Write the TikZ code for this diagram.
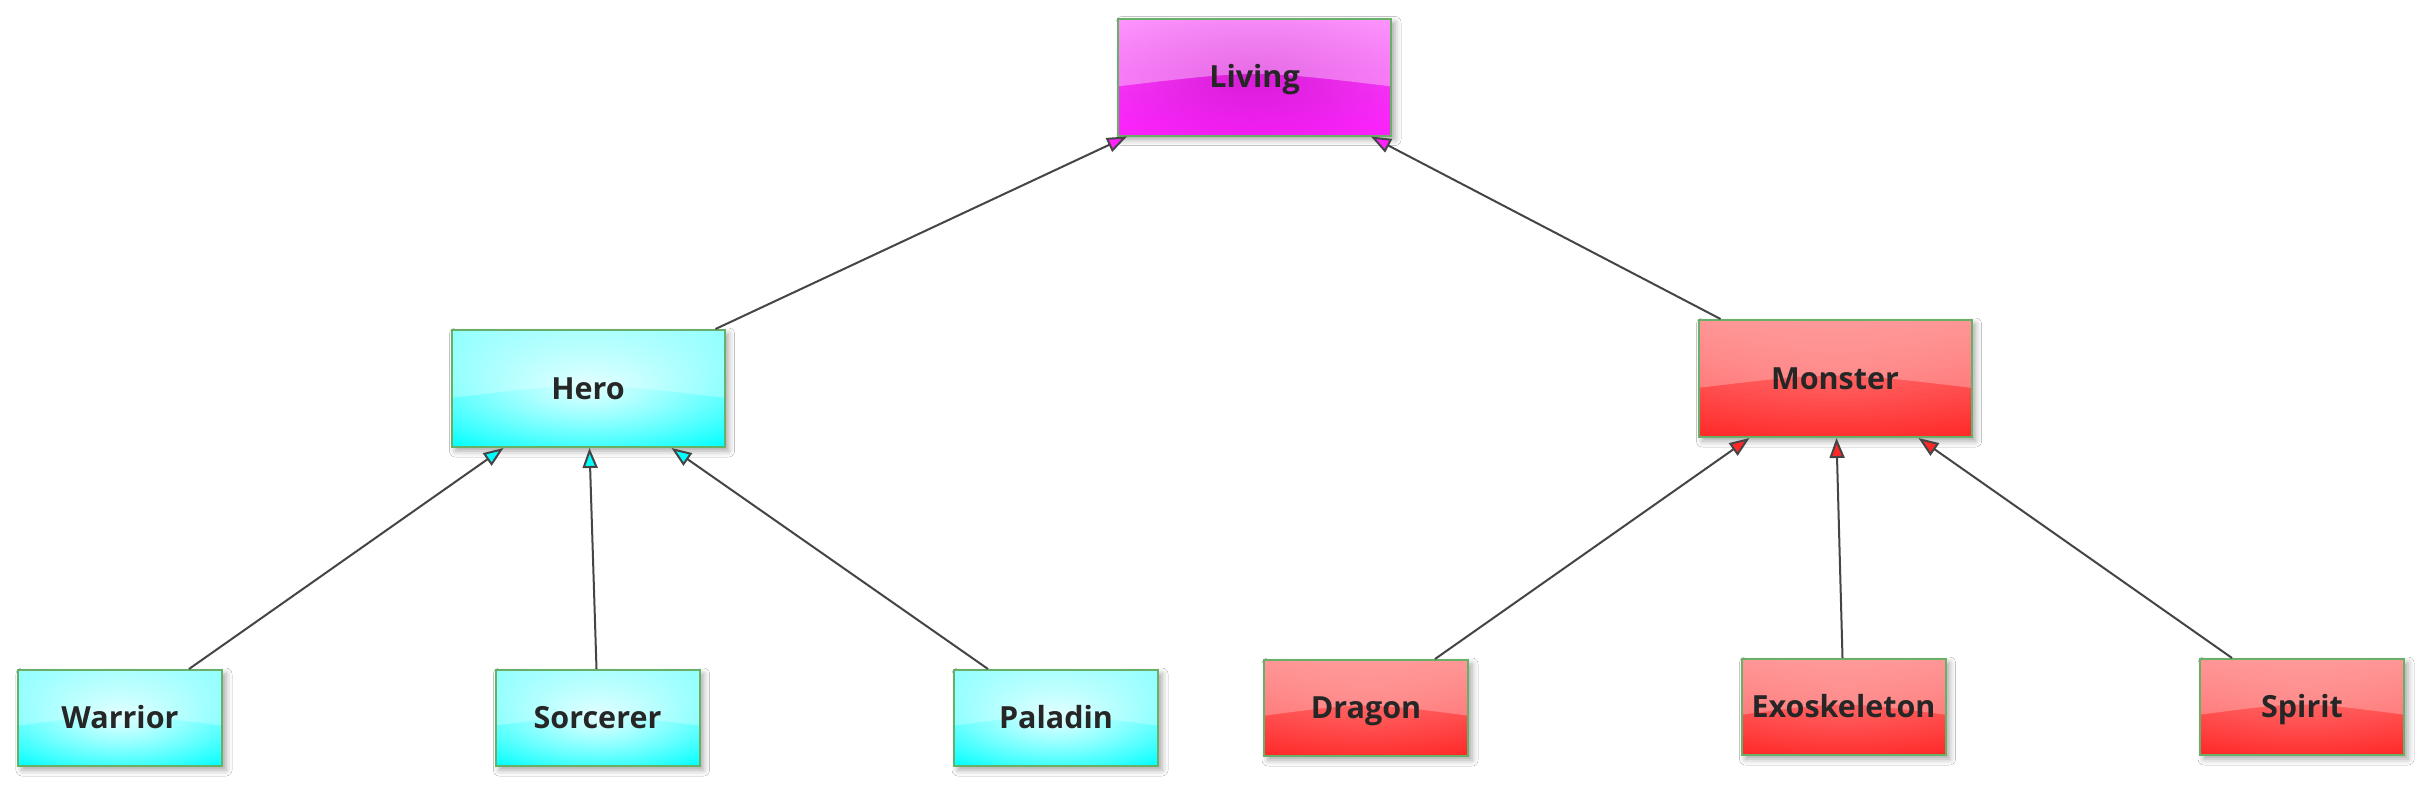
\documentclass[tikz,border=0pt]{standalone}
\usepackage{fontspec}
\setmainfont{Open Sans}
\usetikzlibrary{arrows.meta,calc,fadings,shadows.blur}
\tikzfading[name=glow, inner color=transparent!0, outer color=transparent!100]
\definecolor{edgec}{HTML}{454545}
\definecolor{borderc}{HTML}{68B068}
\definecolor{textc}{HTML}{262626}
\definecolor{cyanT}{HTML}{6CFFFF}
\definecolor{cyanB}{HTML}{00FFFF}
\definecolor{redT}{HTML}{FF7070}
\definecolor{redB}{HTML}{FF2828}
\definecolor{magT}{HTML}{FF5CFF}
\definecolor{magB}{HTML}{FF22FF}
\definecolor{magD}{HTML}{B800B8}
\newcommand\glossbg[5]{%
  \path (path picture bounding box.north west) coordinate (gnw)
        (path picture bounding box.south east) coordinate (gse);
  \shade[top color=#1, bottom color=#2] (gnw) rectangle (gse);
  \fill[#3, opacity=#4, path fading=glow] ($(gnw)!-0.2!(gse)$) rectangle ($(gse)!-0.2!(gnw)$);
  \fill[white, opacity=#5] let \p1=(gnw), \p2=(gse) in
     (\x1,\y1) -- (\x2,\y1) -- (\x2,{\y1+0.58*((\y2)-(\y1))})
     .. controls ({0.5*(\x1+\x2)},{\y1+0.44*((\y2)-(\y1))}) .. (\x1,{\y1+0.58*((\y2)-(\y1))}) -- cycle;
}
\tikzset{
  box/.style={draw=borderc, line width=2pt, rectangle, inner sep=0pt,
    font=\fontsize{30.5}{36}\selectfont\bfseries, text=textc,
    text height=21.8pt, text depth=0pt,
    blur shadow={shadow xshift=4pt, shadow yshift=-4pt, shadow blur radius=6pt, shadow opacity=35}},
  big/.style={minimum width=273pt, minimum height=117pt},
  small/.style={minimum width=204pt, minimum height=96pt},
  cyanbox/.style={box, path picture={\glossbg{cyanT}{cyanB}{white}{0.85}{0.27}}},
  redbox/.style={box, path picture={\glossbg{redT}{redB}{white}{0.12}{0.27}}},
  magbox/.style={box, path picture={\glossbg{magT}{magB}{magD}{0.55}{0.35}}},
  edge/.style={draw=edgec, line width=2pt},
  tomag/.style={edge, -{Triangle[length=20pt, width=15pt, fill=magB]}},
  tocyan/.style={edge, -{Triangle[length=20pt, width=15pt, fill=cyanB]}},
  tored/.style={edge, -{Triangle[length=20pt, width=15pt, fill=redB]}}
}
\begin{document}
\begin{tikzpicture}[x=1pt, y=-1pt]
  \useasboundingbox[fill=white] (0,0) rectangle (2425,787);
  % nodes
  \node[magbox, big] (living) at (1254.5,77) {Living};
  \node[cyanbox, big] (hero) at (588,388.5) {Hero};
  \node[redbox, big] (monster) at (1835,378.5) {Monster};
  \node[cyanbox, small] (warrior) at (120,718) {Warrior};
  \node[cyanbox, small] (sorcerer) at (597.5,718) {Sorcerer};
  \node[cyanbox, small] (paladin) at (1056,718) {Paladin};
  \node[redbox, small] (dragon) at (1366,708) {Dragon};
  \node[redbox, small] (exo) at (1843.5,707) {Exoskeleton};
  \node[redbox, small] (spirit) at (2302,707) {Spirit};
  % connectors
  \draw[tomag] ([xshift=265pt]hero.north west) -- ([xshift=10pt]living.south west);
  \draw[tomag] ([xshift=23pt]monster.north west) -- ([xshift=254pt]living.south west);
  \draw[tocyan] ([xshift=172pt]warrior.north west) -- ([xshift=53pt]hero.south west);
  \draw[tocyan] ([xshift=102pt]sorcerer.north west) -- ([xshift=139pt]hero.south west);
  \draw[tocyan] ([xshift=35pt]paladin.north west) -- ([xshift=221pt]hero.south west);
  \draw[tored] ([xshift=172pt]dragon.north west) -- ([xshift=52pt]monster.south west);
  \draw[tored] ([xshift=102pt]exo.north west) -- ([xshift=139pt]monster.south west);
  \draw[tored] ([xshift=33pt]spirit.north west) -- ([xshift=221pt]monster.south west);
\end{tikzpicture}
\end{document}
